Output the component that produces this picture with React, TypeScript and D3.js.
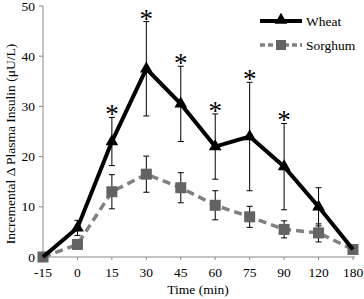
import * as d3 from "d3";

const times = ["-15", "0", "15", "30", "45", "60", "75", "90", "120", "180"];
const wheat = [0, 5.8, 23, 37.5, 30.5, 22, 24, 18, 10, 1.5];
const wheatErr = [0, 1.5, 4.8, 9.4, 7.5, 6.5, 10.8, 8.6, 3.8, 0];
const sorghum = [0, 2.5, 13, 16.5, 13.8, 10.3, 8, 5.5, 4.8, 1.5];
const sorghumErr = [0, 0, 3.4, 3.6, 3, 2.9, 2.1, 1.7, 1.8, 0];
const significant = ["15", "30", "45", "60", "75", "90"];
const yTicks = [0, 10, 20, 30, 40, 50];

const W = 364;
const H = 299;
const font = '"Liberation Serif", "Times New Roman", Times, "DejaVu Serif", serif';

export default function App() {
  const x = d3.scalePoint<string>().domain(times).range([43, 353]);
  const y = d3.scaleLinear().domain([0, 50]).range([257, 6]);

  const line = d3
    .line<number>()
    .x((_, i) => x(times[i])!)
    .y((d) => y(d));

  const tri = d3.symbol().type(d3.symbolTriangle).size(70)();

  const errBars = (vals: number[], errs: number[]) =>
    vals.map((v, i) => {
      if (!errs[i]) return null;
      const cx = x(times[i])!;
      const lo = y(v - errs[i]);
      const hi = y(v + errs[i]);
      return (
        <g key={i} stroke="#000" strokeWidth={1}>
          <line x1={cx} x2={cx} y1={lo} y2={hi} />
          <line x1={cx - 3} x2={cx + 3} y1={hi} y2={hi} />
          <line x1={cx - 3} x2={cx + 3} y1={lo} y2={lo} />
        </g>
      );
    });

  const txt = { fontFamily: font, fontSize: 13.5, fontWeight: 400 };

  return (
    <svg
      width={W}
      height={H}
      style={{ position: "absolute", left: 0, top: 0, background: "#fff" }}
    >
      {/* axes */}
      <line x1={43} x2={43} y1={y(50)} y2={y(0)} stroke="#888" />
      <line x1={43} x2={355} y1={y(0)} y2={y(0)} stroke="#888" />
      {yTicks.map((t) => (
        <g key={t}>
          <line x1={39} x2={43} y1={y(t)} y2={y(t)} stroke="#888" />
          <text x={35} y={y(t) + 4.5} textAnchor="end" style={txt}>
            {t}
          </text>
        </g>
      ))}
      {times.map((t) => (
        <g key={t}>
          <line x1={x(t)} x2={x(t)} y1={y(0)} y2={y(0) + 3} stroke="#888" />
          <text x={x(t)} y={277} textAnchor="middle" style={txt}>
            {t}
          </text>
        </g>
      ))}
      <text x={198} y={294} textAnchor="middle" style={txt}>
        Time (min)
      </text>
      <text
        transform={`translate(15,${144}) rotate(-90)`}
        textAnchor="middle"
        style={txt}
      >
        Incremental Δ Plasma Insulin (μU/L)
      </text>

      {/* error bars */}
      {errBars(sorghum, sorghumErr)}
      {errBars(wheat, wheatErr)}

      {/* sorghum */}
      <path
        d={line(sorghum)!}
        fill="none"
        stroke="#808080"
        strokeWidth={3.5}
        strokeDasharray="8 5"
      />
      {sorghum.map((v, i) => (
        <rect
          key={i}
          x={x(times[i])! - 5.5}
          y={y(v) - 5.5}
          width={11}
          height={11}
          fill="#636363"
        />
      ))}

      {/* wheat */}
      <path d={line(wheat)!} fill="none" stroke="#000" strokeWidth={4} />
      {wheat.map((v, i) =>
        i === 0 || i === wheat.length - 1 ? null : (
          <path
            key={i}
            d={tri!}
            transform={`translate(${x(times[i])},${y(v)})`}
            fill="#000"
          />
        )
      )}

      {/* significance */}
      {significant.map((t) => {
        const i = times.indexOf(t);
        return (
          <text
            key={t}
            x={x(t)}
            y={y(wheat[i] + wheatErr[i]) + 6}
            textAnchor="middle"
            style={{ fontFamily: font, fontSize: 27 }}
          >
            *
          </text>
        );
      })}

      {/* legend */}
      <line x1={260} x2={302} y1={21} y2={21} stroke="#000" strokeWidth={4} />
      <path d={tri!} transform="translate(281,20)" fill="#000" />
      <text x={306} y={25.5} style={txt}>
        Wheat
      </text>
      <line
        x1={260}
        x2={302}
        y1={45}
        y2={45}
        stroke="#808080"
        strokeWidth={3.5}
        strokeDasharray="5 3"
      />
      <rect x={276} y={40} width={10} height={10} fill="#636363" />
      <text x={306} y={49.5} style={txt}>
        Sorghum
      </text>
    </svg>
  );
}
